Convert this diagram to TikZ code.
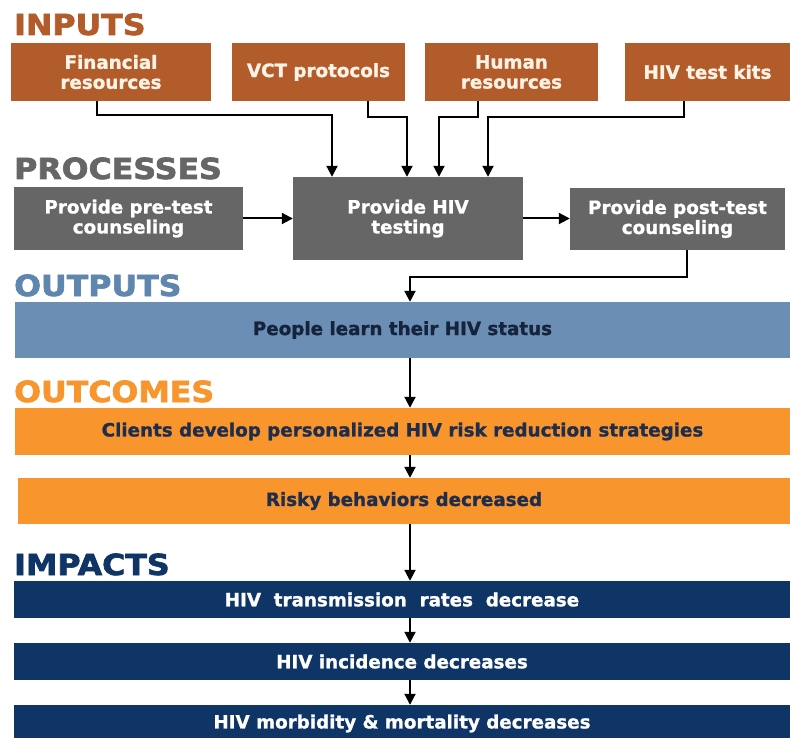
\documentclass[tikz,border=0pt]{standalone}
\usepackage{fontspec}
\usepackage{graphicx}
\setmainfont{DejaVu Sans}
\newfontfamily\heavyfont{DejaVu Sans}[BoldFeatures={FakeBold=2.2}]
\newfontfamily\boxfont{DejaVu Sans}[BoldFeatures={FakeBold=1.2}]
\usetikzlibrary{arrows.meta}
\definecolor{inbrown}{HTML}{B35C2B}
\definecolor{intext}{HTML}{FFF3E6}
\definecolor{procgray}{HTML}{666666}
\definecolor{outblue}{HTML}{6B8FB4}
\definecolor{outhead}{HTML}{5E86AE}
\definecolor{ocorange}{HTML}{F8952C}
\definecolor{imnavy}{HTML}{0F3567}
\definecolor{darktext}{HTML}{16233D}
\definecolor{octext}{HTML}{1F2D4D}
\newcommand{\hdtext}[1]{\scalebox{1.09}[1]{#1}}
\begin{document}
\begin{tikzpicture}[x=1pt,y=-1pt,
  heading/.style={anchor=base west, inner sep=0pt, font=\heavyfont\fontsize{29}{29}\selectfont\bfseries},
  boxbase/.style={inner sep=0pt, align=center, font=\boxfont\fontsize{18.3}{20}\selectfont\bfseries},
  inbox/.style={boxbase, fill=inbrown, text=intext, minimum height=58pt},
  procbox/.style={boxbase, fill=procgray, text=white},
  widebox/.style={boxbase, minimum width=775pt},
  arr/.style={draw=black, line width=2pt, -{Triangle[length=11pt,width=11pt]}}
]
\useasboundingbox (0,0) rectangle (790,738);
\fill[white] (0,0) rectangle (790,738);

% headings
\node[heading, text=inbrown] (hin) at (14,35) {\hdtext{INPUTS}};
\node[heading, text=procgray] (hproc) at (14,179) {\hdtext{PROCESSES}};
\node[heading, text=outhead] (hout) at (14,296) {\hdtext{OUTPUTS}};
\node[heading, text=ocorange] (hoc) at (14,402) {\hdtext{OUTCOMES}};
\node[heading, text=imnavy] (him) at (14,575) {\hdtext{IMPACTS}};

% inputs
\node[inbox, minimum width=200pt] (fin) at (111,72) {Financial\\resources};
\node[inbox, minimum width=173pt] (vct) at (318.5,72) {VCT protocols};
\node[inbox, minimum width=173pt] (hum) at (511.5,72) {Human\\resources};
\node[inbox, minimum width=165pt] (kits) at (707.5,72) {HIV test kits};

% processes
\node[procbox, minimum width=229pt, minimum height=63pt] (pre) at (128.5,218.5) {Provide pre-test\\counseling};
\node[procbox, minimum width=230pt, minimum height=83pt] (test) at (408,218.5) {Provide HIV\\testing};
\node[procbox, minimum width=215pt, minimum height=62pt] (post) at (677.5,219) {Provide post-test\\counseling};

% outputs
\node[widebox, fill=outblue, text=darktext, minimum height=56pt] (out) at (402.5,330) {People learn their HIV status};

% outcomes
\node[widebox, fill=ocorange, text=octext, minimum height=47pt] (oc1) at (402.5,431.5) {Clients develop personalized HIV risk reduction strategies};
\node[boxbase, fill=ocorange, text=octext, minimum width=772pt, minimum height=46pt] (oc2) at (404,501) {Risky behaviors decreased};

% impacts
\node[boxbase, fill=imnavy, text=white, minimum width=776pt, minimum height=37pt] (im1) at (402,599.5) {HIV~ transmission~ rates~ decrease};
\node[boxbase, fill=imnavy, text=white, minimum width=776pt, minimum height=37pt] (im2) at (402,661.5) {HIV incidence decreases};
\node[boxbase, fill=imnavy, text=white, minimum width=776pt, minimum height=37pt] (im3) at (402,723.5) {HIV morbidity \& mortality decreases};

% input connectors
\draw[arr] ([xshift=-14pt]fin.south) -- ++(0,14) -| ([xshift=-76pt]test.north);
\draw[arr] ([xshift=49.5pt]vct.south) -- ++(0,16) -| ([xshift=-1pt]test.north);
\draw[arr] ([xshift=-33.5pt]hum.south) -- ++(0,16) -| ([xshift=31pt]test.north);
\draw[arr] ([xshift=-23.5pt]kits.south) -- ++(0,16) -| ([xshift=80pt]test.north);

% process connectors
\draw[arr] (pre.east) -- (test.west);
\draw[arr] (test.east) -- (test.east -| post.west);
\draw[arr] ([xshift=9.5pt]post.south) -- ++(0,27) -| ([xshift=7.5pt]out.north);

% vertical chain
\draw[arr] ([xshift=7.5pt]out.south) -- ([xshift=7.5pt]out.south |- oc1.north);
\draw[arr] ([xshift=7.5pt]oc1.south) -- ([xshift=7.5pt]oc1.south |- oc2.north);
\draw[arr] ([xshift=6pt]oc2.south) -- ([xshift=6pt]oc2.south |- im1.north);
\draw[arr] ([xshift=8pt]im1.south) -- ([xshift=8pt]im1.south |- im2.north);
\draw[arr] ([xshift=8pt]im2.south) -- ([xshift=8pt]im2.south |- im3.north);
\end{tikzpicture}
\end{document}
